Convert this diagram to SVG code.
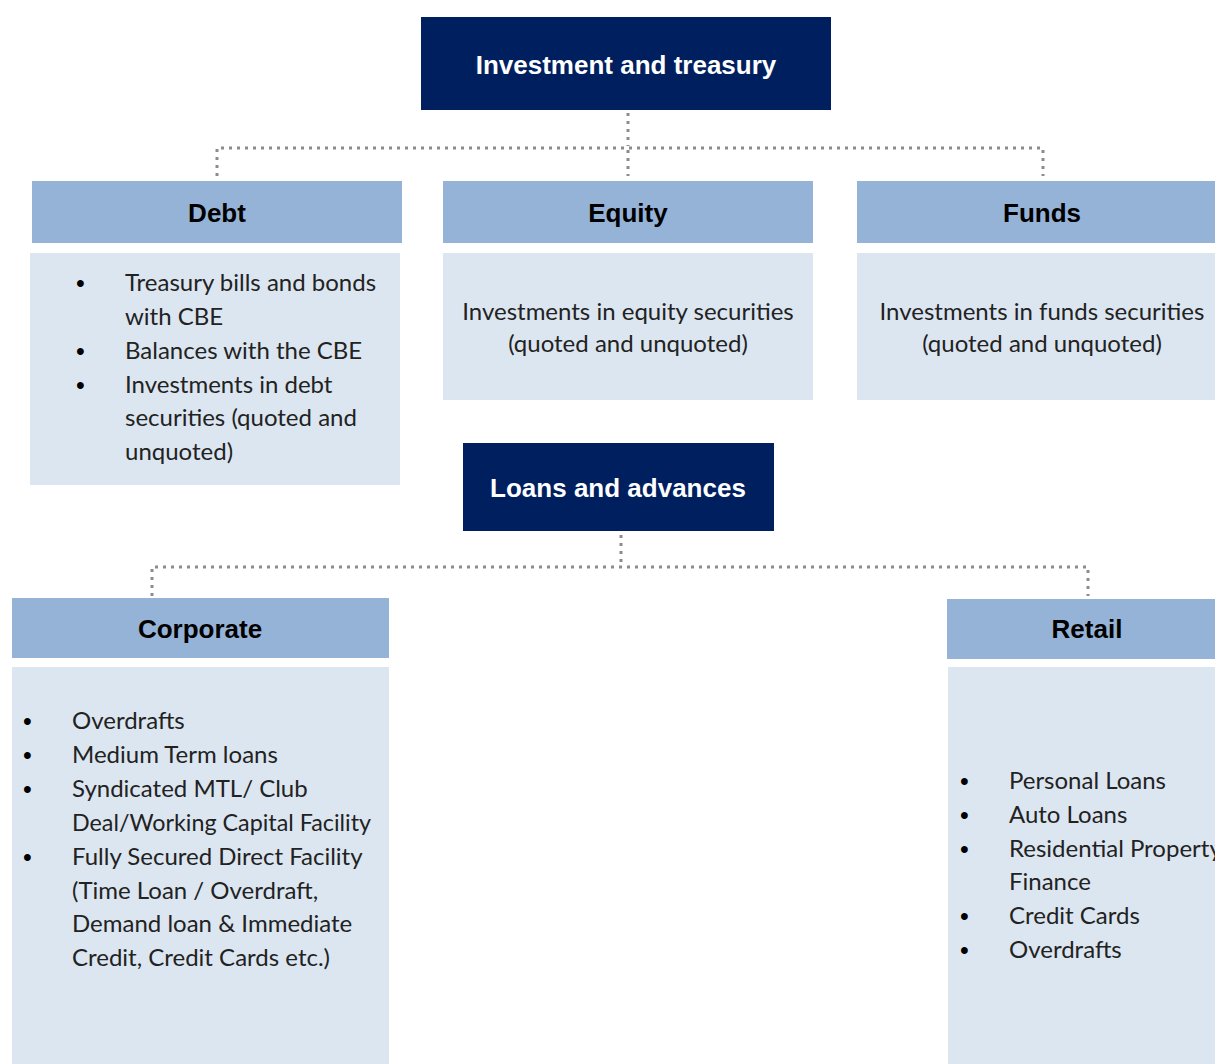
<svg xmlns="http://www.w3.org/2000/svg" width="1215" height="1064" viewBox="0 0 1215 1064">
  <style>
    .dark { fill: #001F5F; }
    .head { fill: #95B3D7; }
    .body { fill: #DCE6F1; }
    .title { font-family: "Liberation Sans", Arial, sans-serif; font-weight: bold; font-size: 26px; fill: #FFFFFF; text-anchor: middle; }
    .sub { font-family: "Liberation Sans", Arial, sans-serif; font-weight: bold; font-size: 26px; fill: #000000; text-anchor: middle; }
    .txt { font-family: Lato, "Open Sans", sans-serif; font-size: 24px; fill: #222222; }
    .bul { font-family: "Liberation Sans", Arial, sans-serif; font-size: 25px; fill: #000000; }
    .mid { text-anchor: middle; }
    .conn { fill: none; stroke: #8C8C8C; stroke-width: 3; stroke-dasharray: 3 5; }
  </style>

  <!-- dotted connectors -->
  <g id="connectors">
    <path class="conn" d="M628 113 V146 M217 176 V148 H1043 V176 M628 150 V176"/>
    <path class="conn" d="M621 535 V565 M152 596 V567 H1088 V596"/>
  </g>

  <!-- level 1: investment and treasury -->
  <g id="investment-treasury">
    <rect class="dark" x="421" y="17" width="410" height="93"/>
    <text class="title" x="626" y="74">Investment and treasury</text>
  </g>

  <g id="debt">
    <rect class="head" x="32" y="181" width="370" height="62"/>
    <text class="sub" x="217" y="222">Debt</text>
    <rect class="body" x="30" y="253" width="370" height="232"/>
    <g class="bul">
      <text x="76" y="292">•</text>
      <text x="76" y="360">•</text>
      <text x="76" y="394">•</text>
    </g>
    <g class="txt">
      <text x="125" y="291">Treasury bills and bonds</text>
      <text x="125" y="325">with CBE</text>
      <text x="125" y="359">Balances with the CBE</text>
      <text x="125" y="393">Investments in debt</text>
      <text x="125" y="426">securities (quoted and</text>
      <text x="125" y="460">unquoted)</text>
    </g>
  </g>

  <g id="equity">
    <rect class="head" x="443" y="181" width="370" height="62"/>
    <text class="sub" x="628" y="222">Equity</text>
    <rect class="body" x="443" y="253" width="370" height="147"/>
    <g class="txt mid">
      <text x="628" y="320">Investments in equity securities</text>
      <text x="628" y="352">(quoted and unquoted)</text>
    </g>
  </g>

  <g id="funds">
    <rect class="head" x="857" y="181" width="358" height="62"/>
    <text class="sub" x="1042" y="222">Funds</text>
    <rect class="body" x="857" y="253" width="358" height="147"/>
    <g class="txt mid">
      <text x="1042" y="320">Investments in funds securities</text>
      <text x="1042" y="352">(quoted and unquoted)</text>
    </g>
  </g>

  <!-- level 1: loans and advances -->
  <g id="loans-advances">
    <rect class="dark" x="463" y="443" width="311" height="88"/>
    <text class="title" x="618" y="497">Loans and advances</text>
  </g>

  <g id="corporate">
    <rect class="head" x="12" y="598" width="377" height="60"/>
    <text class="sub" x="200" y="638">Corporate</text>
    <rect class="body" x="12" y="667" width="377" height="397"/>
    <g class="bul">
      <text x="23" y="730">•</text>
      <text x="23" y="764">•</text>
      <text x="23" y="798">•</text>
      <text x="23" y="866">•</text>
    </g>
    <g class="txt">
      <text x="72" y="729">Overdrafts</text>
      <text x="72" y="763">Medium Term loans</text>
      <text x="72" y="797">Syndicated MTL/ Club</text>
      <text x="72" y="831" textLength="299" lengthAdjust="spacingAndGlyphs">Deal/Working Capital Facility</text>
      <text x="72" y="865">Fully Secured Direct Facility</text>
      <text x="72" y="899">(Time Loan / Overdraft,</text>
      <text x="72" y="932">Demand loan &amp; Immediate</text>
      <text x="72" y="966">Credit, Credit Cards etc.)</text>
    </g>
  </g>

  <g id="retail">
    <rect class="head" x="947" y="599" width="268" height="60"/>
    <text class="sub" x="1087" y="638">Retail</text>
    <rect class="body" x="948" y="667" width="267" height="397"/>
    <g class="bul">
      <text x="960" y="790">•</text>
      <text x="960" y="824">•</text>
      <text x="960" y="858">•</text>
      <text x="960" y="925">•</text>
      <text x="960" y="959">•</text>
    </g>
    <g class="txt">
      <text x="1009" y="789">Personal Loans</text>
      <text x="1009" y="823">Auto Loans</text>
      <text x="1009" y="857">Residential Property</text>
      <text x="1009" y="890">Finance</text>
      <text x="1009" y="924">Credit Cards</text>
      <text x="1009" y="958">Overdrafts</text>
    </g>
  </g>
</svg>
